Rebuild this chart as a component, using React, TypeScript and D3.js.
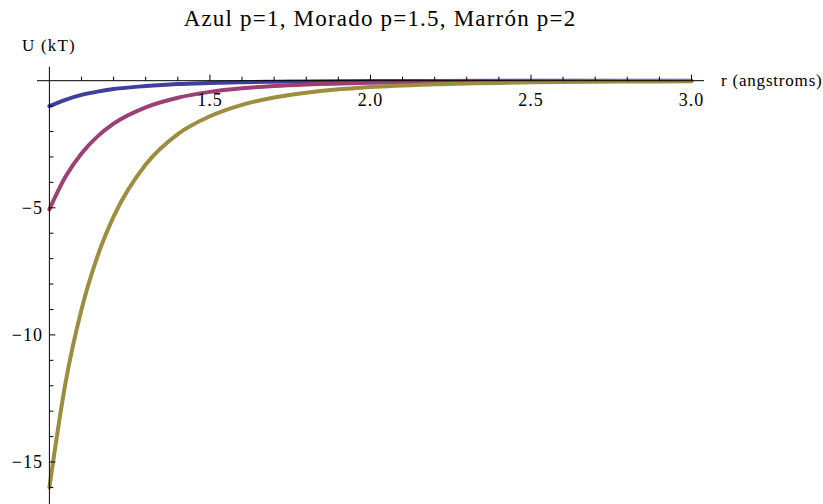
import React from 'react';
import * as d3 from 'd3';

const rValues = [1.0, 1.05, 1.1, 1.15, 1.2, 1.3, 1.4, 1.5, 1.6, 1.7, 1.8, 2.0, 2.2, 2.5, 2.8, 3.0];
// U (kT) for each curve
const azul = [-1.0, -0.75, -0.56, -0.43, -0.33, -0.21, -0.13, -0.09, -0.06, -0.04, -0.03, -0.016, -0.009, -0.004, -0.002, -0.001];
const morado = [-5.06, -3.78, -2.86, -2.19, -1.69, -1.05, -0.67, -0.44, -0.3, -0.21, -0.15, -0.08, -0.045, -0.02, -0.01, -0.007];
const marron = [-16.0, -11.9, -9.0, -6.9, -5.35, -3.3, -2.1, -1.4, -0.95, -0.66, -0.47, -0.25, -0.14, -0.065, -0.033, -0.022];

const xMajor = [1.5, 2.0, 2.5, 3.0];
const yMajor = [-5, -10, -15];

const series = [
  { name: 'Azul', values: azul, color: '#40409c' },
  { name: 'Morado', values: morado, color: '#9c4074' },
  { name: 'Marrón', values: marron, color: '#9c8e40' },
];

const W = 823;
const H = 504;
const font = '"Liberation Serif", "DejaVu Serif", serif';

export default function App() {
  const x = d3.scaleLinear().domain([1, 3]).range([49.4, 691.5]);
  const y = d3.scaleLinear().domain([0, -15]).range([80.7, 462]);

  const line = d3.line<number>()
    .x((_, i) => x(rValues[i]))
    .y(d => y(d))
    .curve(d3.curveMonotoneX);

  const xMinor = d3.range(11, 31).map(v => v / 10);
  const yMinor = d3.range(-1, -17, -1);

  return (
    <svg width={W} height={H} style={{ position: 'absolute', left: 0, top: 0, background: '#fff' }}
      fontFamily={font}>
      <text x={380} y={26} textAnchor="middle" fontSize={23} letterSpacing={1.2}>
        Azul p=1, Morado p=1.5, Marrón p=2
      </text>

      {series.map(s => (
        <path key={s.name} d={line(s.values) || ''} fill="none" stroke={s.color}
          strokeWidth={4} strokeLinecap="round" strokeLinejoin="round" />
      ))}

      {/* x axis */}
      <line x1={37} x2={704} y1={y(0)} y2={y(0)} stroke="#000" strokeWidth={1} />
      {xMinor.map(v => {
        const major = xMajor.some(m => Math.abs(m - v) < 1e-6);
        return <line key={'xt' + v} x1={x(v)} x2={x(v)} y1={y(0)} y2={y(0) - (major ? 6 : 4)}
          stroke="#000" strokeWidth={1} />;
      })}
      {xMajor.map(v => (
        <text key={'xl' + v} x={x(v)} y={106} textAnchor="middle" fontSize={18} letterSpacing={1}>
          {v.toFixed(1)}
        </text>
      ))}
      <text x={721} y={86} fontSize={17} letterSpacing={0.8}>r (angstroms)</text>

      {/* y axis */}
      <line x1={x(1)} x2={x(1)} y1={66.7} y2={H} stroke="#000" strokeWidth={1} />
      {yMinor.map(v => {
        const major = yMajor.includes(v);
        return <line key={'yt' + v} x1={x(1)} x2={x(1) + (major ? 6 : 4)} y1={y(v)} y2={y(v)}
          stroke="#000" strokeWidth={1} />;
      })}
      {yMajor.map(v => (
        <text key={'yl' + v} x={43} y={y(v)} dy="0.35em" textAnchor="end" fontSize={18} letterSpacing={1}>
          {'\u2212' + Math.abs(v)}
        </text>
      ))}
      <text x={22} y={51} fontSize={17} letterSpacing={1.2}>U (kT)</text>
    </svg>
  );
}
